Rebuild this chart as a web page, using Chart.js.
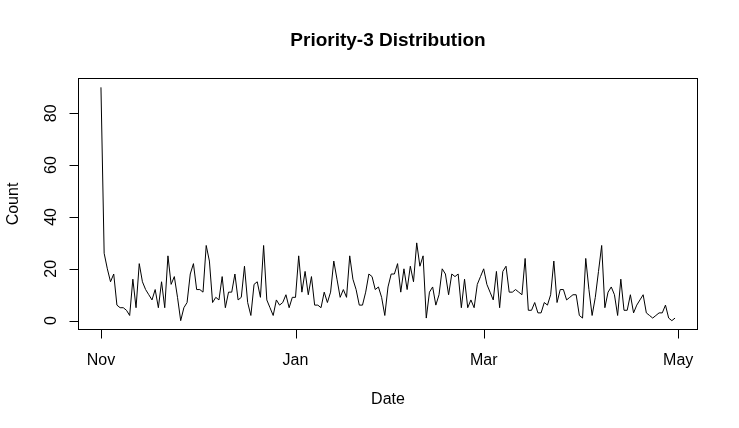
<!DOCTYPE html>
<html>
<head>
<meta charset="utf-8">
<script src="https://cdn.jsdelivr.net/npm/chart.js@4"></script>
<style>
  html, body { margin: 0; padding: 0; background: #fff; }
  #wrap { width: 739px; height: 428px; }
</style>
</head>
<body>
<div id="wrap"><canvas id="prioChart" width="739" height="428"></canvas></div>
<script>
// daily counts, day 0 = Nov 1
const counts = [
  90, 26, 20, 15, 18, 6, 5, 5, 4, 2,
  16, 5, 22, 15, 12, 10, 8, 12, 5, 15,
  5, 25, 14, 17, 9, 0, 5, 7, 18, 22,
  12, 12, 11, 29, 23, 7, 9, 8, 17, 5,
  11, 11, 18, 8, 9, 21, 7, 2, 14, 15,
  9, 29, 8, 5, 2, 8, 6, 7, 10, 5,
  9, 9, 25, 11, 19, 10, 17, 6, 6, 5,
  11, 7, 11, 23, 16, 9, 12, 9, 25, 16,
  12, 6, 6, 11, 18, 17, 12, 13, 9, 2,
  13, 18, 18, 22, 11, 20, 12, 21, 15, 30,
  21, 25, 1, 11, 13, 6, 10, 20, 18, 10,
  18, 17, 18, 5, 16, 5, 8, 5, 14, 17,
  20, 14, 11, 8, 19, 5, 19, 21, 11, 11,
  12, 11, 10, 24, 4, 4, 7, 3, 3, 7,
  6, 10, 23, 7, 12, 12, 8, 9, 10, 10,
  2, 1, 24, 12, 2, 9, 19, 29, 5, 11,
  13, 10, 2, 16, 4, 4, 10, 3, 6, 8,
  10, 3, 2, 1, 2, 3, 3, 6, 1, 0,
  1
];
const days = counts.map((c, i) => i);

const xTickDays = [0, 61, 120, 181];
const xTickLabels = ["Nov", "Jan", "Mar", "May"];
const yTicks = [0, 20, 40, 60, 80];

const FONT = '"Liberation Sans", Arial, sans-serif';

// R-style box, ticks and labels
const baseAxes = {
  id: "baseAxes",
  afterDraw(chart) {
    const ctx = chart.ctx;
    const area = chart.chartArea;
    const xs = chart.scales.x;
    const ys = chart.scales.y;
    const tick = 9;

    ctx.save();
    ctx.strokeStyle = "#000";
    ctx.lineWidth = 1;
    ctx.strokeRect(Math.round(area.left) + 0.5, Math.round(area.top) + 0.5,
      Math.round(area.right - area.left) - 1, Math.round(area.bottom - area.top) - 1);

    ctx.fillStyle = "#000";
    ctx.font = "16px " + FONT;

    // x axis
    const bottom = Math.round(area.bottom) - 0.5;
    ctx.beginPath();
    const x0 = Math.round(xs.getPixelForValue(xTickDays[0])) + 0.5;
    const x1 = Math.round(xs.getPixelForValue(xTickDays[xTickDays.length - 1])) + 0.5;
    ctx.moveTo(x0, bottom); ctx.lineTo(x1, bottom);
    xTickDays.forEach((d) => {
      const px = Math.round(xs.getPixelForValue(d)) + 0.5;
      ctx.moveTo(px, bottom);
      ctx.lineTo(px, bottom + tick);
    });
    ctx.stroke();
    ctx.textAlign = "center";
    ctx.textBaseline = "alphabetic";
    xTickDays.forEach((d, i) => {
      ctx.fillText(xTickLabels[i], xs.getPixelForValue(d), 365);
    });

    // y axis
    const left = Math.round(area.left) + 0.5;
    ctx.beginPath();
    const y0 = Math.round(ys.getPixelForValue(yTicks[0])) + 0.5;
    const y1 = Math.round(ys.getPixelForValue(yTicks[yTicks.length - 1])) + 0.5;
    ctx.moveTo(left, y0); ctx.lineTo(left, y1);
    yTicks.forEach((v) => {
      const py = Math.round(ys.getPixelForValue(v)) + 0.5;
      ctx.moveTo(left, py);
      ctx.lineTo(left - tick, py);
    });
    ctx.stroke();
    yTicks.forEach((v) => {
      ctx.save();
      ctx.translate(56, ys.getPixelForValue(v));
      ctx.rotate(-Math.PI / 2);
      ctx.fillText(String(v), 0, 0);
      ctx.restore();
    });

    // titles
    const midX = (area.left + area.right) / 2;
    ctx.fillText("Date", midX, 404);
    ctx.save();
    ctx.translate(18, (area.top + area.bottom) / 2);
    ctx.rotate(-Math.PI / 2);
    ctx.fillText("Count", 0, 0);
    ctx.restore();

    ctx.font = "bold 19px " + FONT;
    ctx.fillText("Priority-3 Distribution", midX, 46);
    ctx.restore();
  }
};

new Chart(document.getElementById("prioChart"), {
  type: "line",
  data: {
    datasets: [{
      data: days.map((d, i) => ({ x: d, y: counts[i] })),
      borderColor: "#000",
      borderWidth: 1,
      pointRadius: 0,
      tension: 0,
      fill: false
    }]
  },
  options: {
    responsive: false,
    animation: false,
    devicePixelRatio: 1,
    layout: { padding: { left: 78, top: 78, right: 41, bottom: 98 } },
    plugins: { legend: { display: false }, tooltip: { enabled: false } },
    scales: {
      x: { type: "linear", min: -7.2, max: 187.2, display: false },
      y: { min: -3.6, max: 93.6, display: false }
    }
  },
  plugins: [baseAxes]
});
</script>
</body>
</html>
